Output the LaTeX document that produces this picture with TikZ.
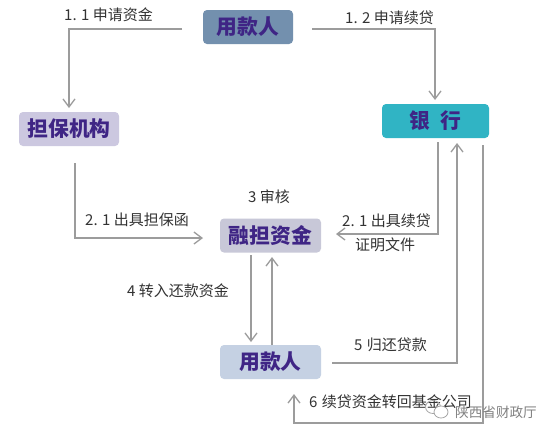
\documentclass[tikz,border=0pt]{standalone}
\usepackage{fontspec}
\setmainfont{Noto Sans CJK SC}
\usetikzlibrary{arrows.meta}
\definecolor{boxtext}{HTML}{3F2585}
\definecolor{linegray}{HTML}{9C9C9C}
\definecolor{labeltext}{HTML}{333333}
\tikzset{
  boxnode/.style={rounded corners=4pt,inner sep=0pt,minimum height=34pt,font=\fontsize{20.8}{21}\selectfont\bfseries,text=boxtext},
  lab/.style={font=\fontsize{15}{16}\selectfont,text=labeltext,inner sep=0pt},
  conn/.style={draw=linegray,line width=1.4pt,-{Straight Barb[length=8pt,width=12pt,line width=1.3pt]}},
}
\begin{document}
\begin{tikzpicture}[x=1pt,y=-1pt]
\useasboundingbox (0,0) rectangle (554,437);
\fill[white] (0,0) rectangle (554,437);
\node[boxnode,fill={rgb,255:red,115;green,144;blue,174},minimum width=90pt] (u1) at (248,27) {用款人};
\node[boxnode,fill={rgb,255:red,204;green,200;blue,224},minimum width=100pt] (g) at (69,129) {担保机构};
\node[boxnode,fill={rgb,255:red,48;green,180;blue,196},minimum width=107pt] (b) at (435.5,121) {银\hspace{10pt}行};
\node[boxnode,fill={rgb,255:red,200;green,200;blue,216},minimum width=101pt] (f) at (270.5,235.5) {融担资金};
\node[boxnode,fill={rgb,255:red,197;green,209;blue,227},minimum width=101pt] (u2) at (270.5,362) {用款人};
% connector ends, each a small gap away from the box it belongs to
\coordinate (a11) at (182,29);
\coordinate (t11) at (69,108);
\coordinate (a12) at (312,29);
\coordinate (t12) at (435,100);
\coordinate (a21) at (75,163);
\coordinate (t21) at (203,238);
\coordinate (a22) at (438,142);
\coordinate (t22) at (336,234);
\coordinate (a5) at (332,363);
\coordinate (t5) at (457,143);
\coordinate (a6) at (483,145);
\coordinate (t6) at (294,394);
\coordinate (a4) at (251,255);
\coordinate (t4) at (251,342);
\coordinate (a4b) at (272,345);
\coordinate (t4b) at (272,257);
\draw[conn] (a11) -- (69,29) -- (t11);
\draw[conn] (a12) -- (435,29) -- (t12);
\draw[conn] (a21) -- (75,238) -- (t21);
\draw[conn] (a22) -- (438,234) -- (t22);
\draw[conn] (a5) -- (457,363) -- (t5);
\draw[conn] (a6) -- (483,423) -- (294,423) -- (t6);
\draw[conn] (a4) -- (t4);
\draw[conn] (a4b) -- (t4b);
% labels
\node[lab,anchor=west] at (64,15) {1. 1 申请资金};
\node[lab,anchor=west] at (345,18) {1. 2 申请续贷};
\node[lab,anchor=west] at (248,197) {3 审核};
\node[lab,anchor=west] at (85,220) {2. 1 出具担保函};
\node[lab,anchor=west] at (342,221) {2. 1 出具续贷};
\node[lab,anchor=west] at (355,245) {证明文件};
\node[lab,anchor=west] at (127,291) {4 转入还款资金};
\node[lab,anchor=west] at (354,345) {5 \hspace{1pt}归还贷款};
\node[lab,anchor=west] at (309,402) {6 \hspace{1pt}续贷资金转回基金公司};
% watermark
\draw[black!35,line width=.8pt] (433,407) ellipse (7.5pt and 6.5pt);
\draw[black!35,line width=.8pt,fill=white] (441,412) ellipse (7pt and 6pt);
\node[lab,anchor=west,text=black!50,font=\fontsize{13.6}{15}\selectfont] at (455,412) {陕西省财政厅};
\end{tikzpicture}
\end{document}
